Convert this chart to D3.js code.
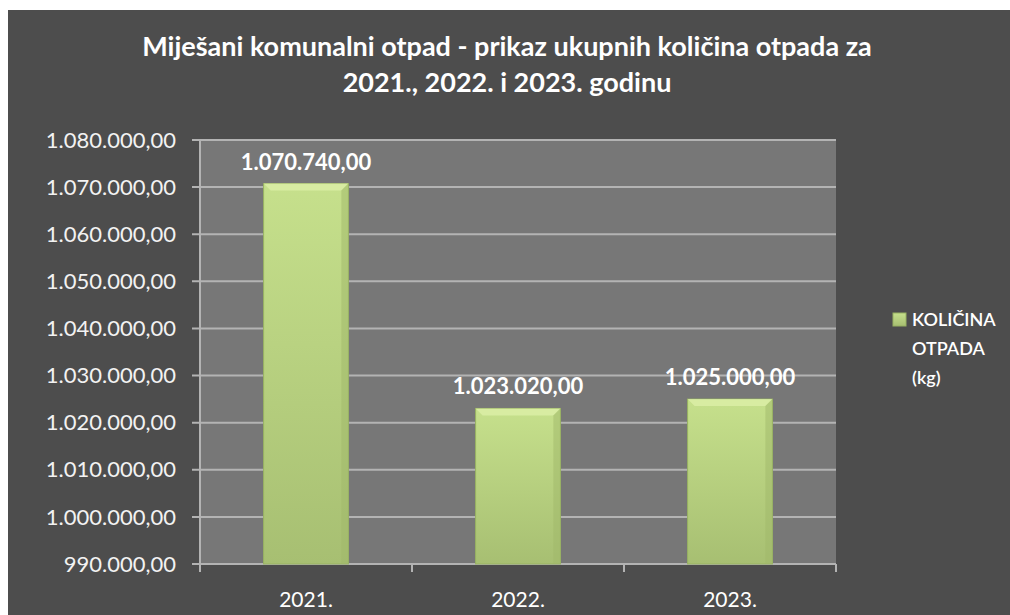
<!DOCTYPE html>
<html><head><meta charset="utf-8">
<script src="https://cdn.jsdelivr.net/npm/d3@7"></script>
<style>body{margin:0;background:#fff}svg{display:block}</style>
</head><body>
<svg id="c" width="1010" height="615"></svg>
<script>
const categories = ["2021.", "2022.", "2023."];
const values = [1070740, 1023020, 1025000];
const yTicks = [990000,1000000,1010000,1020000,1030000,1040000,1050000,1060000,1070000,1080000];
const titleLines = ["Miješani komunalni otpad - prikaz ukupnih količina otpada za", "2021., 2022. i 2023. godinu"];
const legendLines = ["KOLIČINA", "OTPADA", "(kg)"];

const svg = d3.select("#c");
const font = "Lato, 'Open Sans', sans-serif";
const defs = svg.append("defs");
const g1 = defs.append("linearGradient").attr("id","barg").attr("x1",0).attr("y1",0).attr("x2",0).attr("y2",1);
g1.append("stop").attr("offset","0%").attr("stop-color","#c6e08c");
g1.append("stop").attr("offset","100%").attr("stop-color","#a7bf72");

svg.append("rect").attr("x",8).attr("y",10).attr("width",1002).attr("height",605).attr("fill","#4d4d4d");

const m = {l:200, r:836, t:140, b:564};
const x = d3.scaleBand().domain(categories).range([m.l, m.r]).paddingInner(0.6).paddingOuter(0.3);
const y = d3.scaleLinear().domain([990000,1080000]).range([m.b, m.t]);

svg.append("rect").attr("x",m.l).attr("y",m.t).attr("width",m.r-m.l).attr("height",m.b-m.t).attr("fill","#777777");

const fmt = v => d3.formatLocale({decimal:",",thousands:".",grouping:[3],currency:["",""]}).format(",.2f")(v);

// gridlines
svg.append("g").selectAll("line").data(yTicks).join("line")
  .attr("x1",m.l-8).attr("x2",m.r).attr("y1",d=>y(d)).attr("y2",d=>y(d))
  .attr("stroke","#b3b3b3").attr("stroke-width",2);

// y axis line
svg.append("line").attr("x1",m.l).attr("x2",m.l).attr("y1",m.t).attr("y2",m.b+8).attr("stroke","#b3b3b3").attr("stroke-width",2);
// x ticks at category boundaries
const bounds = [0,1,2,3].map(i=>m.l + i*(m.r-m.l)/3);
svg.append("g").selectAll("line").data(bounds).join("line")
  .attr("x1",d=>d).attr("x2",d=>d).attr("y1",m.b).attr("y2",m.b+8).attr("stroke","#b3b3b3").attr("stroke-width",2);

// y labels
svg.append("g").selectAll("text").data(yTicks).join("text")
  .attr("x",176).attr("y",d=>y(d)).attr("dy","0.35em").attr("text-anchor","end")
  .attr("fill","#f2f2f2").attr("font-family",font).attr("font-size",22).text(fmt);

// bars
const bars = svg.append("g").selectAll("g").data(values).join("g");
bars.append("rect")
  .attr("x",(d,i)=>x(categories[i])).attr("width",x.bandwidth())
  .attr("y",d=>y(d)).attr("height",d=>m.b-y(d))
  .attr("fill","url(#barg)").attr("stroke","#98b262").attr("stroke-width",1);
// bevel top
bars.append("path").attr("d",(d,i)=>{
  const x0=x(categories[i]), w=x.bandwidth(), t=y(d), b=7;
  return `M${x0},${t}L${x0+w},${t}L${x0+w-b},${t+b}L${x0+b},${t+b}Z`;
}).attr("fill","#dcefa8").attr("opacity",0.8);
bars.append("path").attr("d",(d,i)=>{
  const x0=x(categories[i]), w=x.bandwidth(), t=y(d), b=7;
  return `M${x0+w},${t}L${x0+w},${m.b}L${x0+w-b},${m.b}L${x0+w-b},${t+b}Z`;
}).attr("fill","#9fb86a").attr("opacity",0.5);

// value labels
svg.append("g").selectAll("text").data(values).join("text")
  .attr("x",(d,i)=>x(categories[i])+x.bandwidth()/2).attr("y",d=>y(d)-14)
  .attr("text-anchor","middle").attr("fill","#ffffff").attr("font-family",font)
  .attr("font-weight","bold").attr("font-size",22).text(fmt);

// x labels
svg.append("g").selectAll("text").data(categories).join("text")
  .attr("x",d=>x(d)+x.bandwidth()/2).attr("y",600).attr("dy","0.35em").attr("text-anchor","middle")
  .attr("fill","#ffffff").attr("font-family",font).attr("font-size",21).text(d=>d);

// title
svg.append("g").selectAll("text").data(titleLines).join("text")
  .attr("x",507).attr("y",(d,i)=>47+i*36).attr("dy","0.35em").attr("text-anchor","middle")
  .attr("fill","#ffffff").attr("font-family",font).attr("font-weight","bold").attr("font-size",27).text(d=>d);

// legend
svg.append("rect").attr("x",893).attr("y",313).attr("width",13).attr("height",13).attr("fill","url(#barg)").attr("stroke","#98b262");
svg.append("g").selectAll("text").data(legendLines).join("text")
  .attr("x",912).attr("y",(d,i)=>320+i*29).attr("dy","0.35em")
  .attr("fill","#ffffff").attr("font-family",font).attr("font-weight","600").attr("font-size",18).text(d=>d);
</script>
</body></html>
